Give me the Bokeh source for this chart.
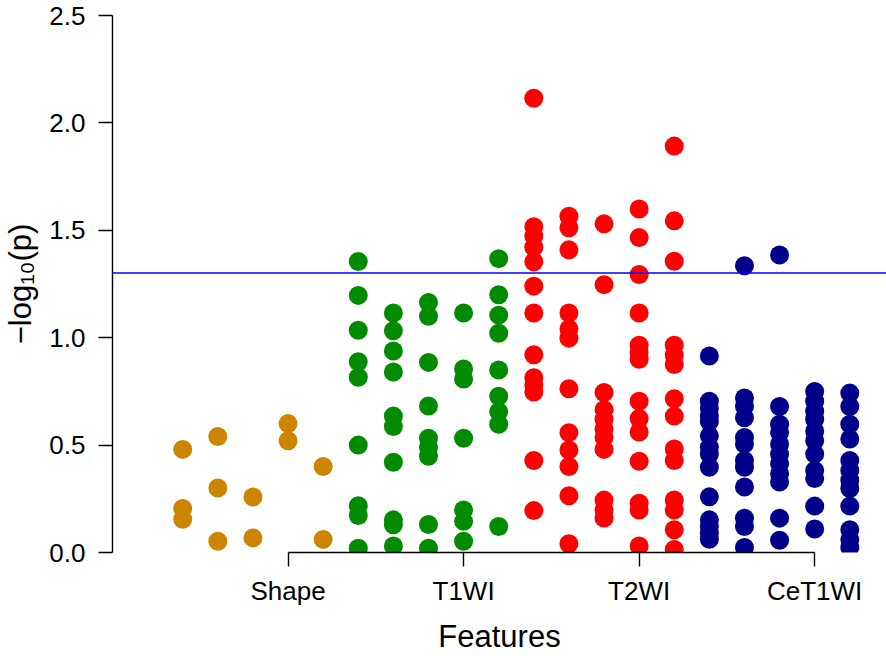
import math
from bokeh.plotting import figure
from bokeh.models import FixedTicker, NumeralTickFormatter, Span
from bokeh.embed import file_html
from bokeh.resources import INLINE

# ---- data: one list of -log10(p) values per feature column ----
groups = ["Shape", "T1WI", "T2WI", "CeT1WI"]
group_colors = ["#CD8500", "#008B00", "#FF0000", "#00008B"]

shape_cols = [
    [0.48, 0.205, 0.155],
    [0.54, 0.30, 0.052],
    [0.258, 0.068],
    [0.60, 0.52],
    [0.40, 0.061],
]
t1wi_cols = [
    [1.355, 1.197, 1.035, 0.888, 0.816, 0.50, 0.218, 0.172, 0.02],
    [1.115, 1.032, 0.938, 0.84, 0.635, 0.587, 0.42, 0.152, 0.129, 0.03],
    [1.164, 1.10, 0.885, 0.682, 0.532, 0.489, 0.448, 0.13, 0.02],
    [1.115, 0.854, 0.808, 0.532, 0.198, 0.145, 0.052],
    [1.368, 1.20, 1.105, 1.021, 0.85, 0.727, 0.655, 0.597, 0.121],
]
t2wi_cols = [
    [2.115, 1.517, 1.473, 1.421, 1.354, 1.24, 1.115, 0.921, 0.814, 0.78, 0.747, 0.428, 0.195],
    [1.565, 1.512, 1.409, 1.115, 1.041, 0.998, 0.762, 0.558, 0.477, 0.40, 0.264, 0.041],
    [1.53, 1.247, 0.745, 0.665, 0.62, 0.575, 0.535, 0.48, 0.244, 0.198, 0.16],
    [1.599, 1.466, 1.294, 1.115, 0.965, 0.934, 0.90, 0.704, 0.624, 0.561, 0.425, 0.229, 0.198, 0.03],
    [1.892, 1.544, 1.356, 0.965, 0.919, 0.875, 0.716, 0.635, 0.482, 0.428, 0.244, 0.198, 0.106, 0.014],
]
cet1wi_cols = [
    [0.915, 0.704, 0.673, 0.635, 0.61, 0.543, 0.49, 0.458, 0.397, 0.259, 0.152, 0.121, 0.09, 0.062],
    [1.335, 0.719, 0.68, 0.627, 0.535, 0.505, 0.428, 0.397, 0.305, 0.16, 0.121, 0.023],
    [1.385, 0.68, 0.597, 0.558, 0.505, 0.458, 0.413, 0.367, 0.328, 0.16, 0.057],
    [0.75, 0.704, 0.658, 0.62, 0.566, 0.52, 0.458, 0.382, 0.344, 0.216, 0.109],
    [0.742, 0.68, 0.597, 0.528, 0.428, 0.382, 0.336, 0.298, 0.216, 0.106, 0.06, 0.023],
]
group_cols = [shape_cols, t1wi_cols, t2wi_cols, cet1wi_cols]
group_tick_pos = [4, 9, 14, 19]
threshold = -math.log10(0.05)

FONT = "Liberation Sans"

W, H = 886, 656
LEFT, TOP, BOTTOM = 110, 15, 103
frame_w = W - LEFT
col_px = 35.2
x0, x1 = -1.0, -1.0 + frame_w / col_px

p = figure(width=W, height=H, output_backend="svg", toolbar_location=None,
           x_range=(x0, x1), y_range=(0, 2.5),
           min_border_left=LEFT, min_border_right=0, min_border_top=TOP,
           min_border_bottom=BOTTOM)
p.outline_line_color = None
p.xgrid.visible = False
p.ygrid.visible = False
p.background_fill_color = "white"

col_index = 1
for cols, color in zip(group_cols, group_colors):
    for vals in cols:
        p.scatter([col_index] * len(vals), vals, size=19, fill_color=color,
                  line_color=color, line_width=0)
        col_index += 1

p.add_layout(Span(location=threshold, dimension="width", line_color="#0000FF", line_width=1.5))

# x axis
xa = p.xaxis[0]
xa.ticker = FixedTicker(ticks=group_tick_pos)
xa.major_label_overrides = {t: g for t, g in zip(group_tick_pos, groups)}
xa.bounds = (group_tick_pos[0], group_tick_pos[-1])
xa.major_tick_out = 14
xa.major_tick_in = 0
xa.minor_tick_out = 0
xa.minor_tick_in = 0
xa.axis_line_width = 1.4
xa.major_tick_line_width = 1.4
xa.major_label_text_font = FONT
xa.major_label_text_font_size = "26px"
xa.major_label_text_color = "black"
xa.major_label_standoff = 9
xa.axis_label = "Features"
xa.axis_label_text_font = FONT
xa.axis_label_text_font_size = "31px"
xa.axis_label_text_font_style = "normal"
xa.axis_label_text_color = "black"
xa.axis_label_standoff = 10

# y axis
ya = p.yaxis[0]
ya.ticker = FixedTicker(ticks=[0, 0.5, 1.0, 1.5, 2.0, 2.5])
ya.formatter = NumeralTickFormatter(format="0.0")
ya.bounds = (0, 2.5)
ya.major_tick_out = 14
ya.major_tick_in = 0
ya.minor_tick_out = 0
ya.minor_tick_in = 0
ya.axis_line_width = 1.4
ya.major_tick_line_width = 1.4
ya.major_label_text_font = FONT
ya.major_label_text_font_size = "26px"
ya.major_label_text_color = "black"
ya.major_label_standoff = 13
ya.major_label_orientation = "horizontal"
ya.axis_label = "\u2212log\u2081\u2080(p)"
ya.axis_label_text_font = FONT
ya.axis_label_text_font_size = "31px"
ya.axis_label_text_font_style = "normal"
ya.axis_label_text_color = "black"
ya.axis_label_standoff = 8

open("out.html", "w").write(file_html(p, INLINE))
